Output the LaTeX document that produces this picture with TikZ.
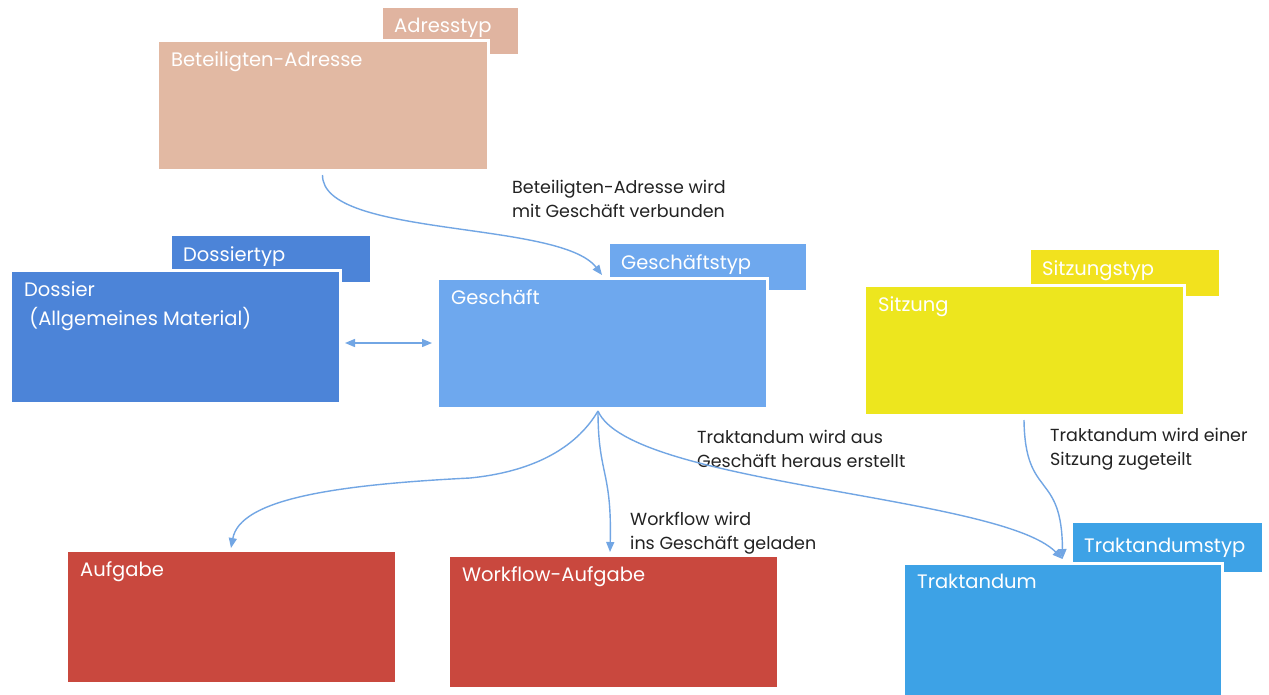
\documentclass[tikz,border=0pt]{standalone}
\usepackage{fontspec}
\setmainfont{Poppins}
\usetikzlibrary{arrows.meta}
\definecolor{tanc}{HTML}{E2B9A3}
\definecolor{tantab}{HTML}{E0B4A0}
\definecolor{dosc}{HTML}{4C84D8}
\definecolor{gesc}{HTML}{6EA8EE}
\definecolor{sitc}{HTML}{EDE61E}
\definecolor{sittab}{HTML}{F2E21E}
\definecolor{aufc}{HTML}{C9483E}
\definecolor{trkc}{HTML}{3DA2E6}
\definecolor{arrc}{HTML}{72A6E4}
\definecolor{txtc}{HTML}{222222}
\begin{document}
\begin{tikzpicture}[x=1pt,y=-1pt,
  mainbox/.style={draw=white, line width=3pt, anchor=north west, inner sep=0pt, outer sep=0pt,
    minimum width=#1, minimum height=130pt},
  tabbox/.style={anchor=north west, inner sep=0pt, outer sep=0pt, minimum width=#1, minimum height=46pt},
  lab/.style={anchor=north west, text=white, inner sep=0pt, xshift=14pt, yshift=-11pt,
    font=\fontsize{19.5}{29}\selectfont, align=left},
  tablab/.style={anchor=north west, text=white, inner sep=0pt, xshift=11pt, yshift=-10pt,
    font=\fontsize{19.5}{22}\selectfont},
  note/.style={anchor=north west, text=txtc, inner sep=0pt, align=left,
    font=\fontsize{17.5}{24}\selectfont},
  conn/.style={draw=arrc, line width=1.4pt, -{Triangle[length=10pt,width=8pt]}},
]
\useasboundingbox (0,0) rectangle (1269,694);
\fill[white] (0,0) rectangle (1269,694);

% type tabs
\node[tabbox=135pt, fill=tantab, label={[tablab]north west:Adresstyp}] (adrt) at (383,8) {};
\node[tabbox=198pt, fill=dosc, label={[tablab]north west:Dossiertyp}] (dost) at (172,236) {};
\node[tabbox=196pt, fill=gesc, label={[tablab]north west:Geschäftstyp}] (gest) at (610,244) {};
\node[tabbox=188pt, fill=sittab, label={[tablab]north west:Sitzungstyp}] (sitt) at (1031,250) {};
\node[tabbox=189pt, minimum height=49pt, fill=trkc, label={[tablab, yshift=-5pt]north west:Traktandumstyp}] (trkt) at (1073,523) {};

% main boxes
\node[mainbox=331pt, fill=tanc, label={[lab]north west:Beteiligten-Adresse}] (adr) at (157,40) {};
\node[mainbox=330pt, minimum height=133pt, fill=dosc, label={[lab]north west:Dossier\\\ (Allgemeines Material)}] (dos) at (10,270) {};
\node[mainbox=330pt, fill=gesc, label={[lab]north west:Geschäft}] (ges) at (437,278) {};
\node[mainbox=320pt, fill=sitc, label={[lab]north west:Sitzung}] (sit) at (864,285) {};
\node[mainbox=330pt, minimum height=133pt, fill=aufc, label={[lab]north west:Aufgabe}] (auf) at (66,550) {};
\node[mainbox=330pt, minimum height=133pt, fill=aufc, label={[lab]north west:Workflow-Aufgabe}] (wfa) at (448,555) {};
\node[mainbox=319pt, minimum height=133pt, fill=trkc, label={[lab]north west:Traktandum}] (trk) at (903,563) {};

% notes
\node[note] (n1) at (512,180) {Beteiligten-Adresse wird\\mit Geschäft verbunden};
\node[note] (n2) at (697,430) {Traktandum wird aus\\Geschäft heraus erstellt};
\node[note] (n3) at (1050,428) {Traktandum wird einer\\Sitzung zugeteilt};
\node[note] (n4) at (630,512) {Workflow wird\\ins Geschäft geladen};

% connectors
\coordinate (gs) at ([xshift=-4pt,yshift=-3pt]ges.south);
\draw[conn] ([yshift=-5pt]adr.south) .. controls (322,238) and (560,220) .. ([yshift=3pt]ges.north);
\draw[conn, {Triangle[length=10pt,width=8pt]}-{Triangle[length=10pt,width=8pt]}]
  ([xshift=5pt]dos.east |- ges.west) -- ([xshift=-5pt]ges.west);
\draw[conn] (gs) .. controls (575,450) and (530,472) .. (470,478)
  .. controls (330,485) and (240,500) .. ([yshift=2pt]auf.north);
\draw[conn] (gs) .. controls (598,475) and (612,470) .. ([xshift=-3pt,yshift=3pt]wfa.north);
\draw[conn] (gs) .. controls (630,485) and (1000,495) .. ([yshift=4pt]trk.north);
\draw[conn] ([yshift=-5pt]sit.south) .. controls (1025,500) and (1062,470) .. ([yshift=4pt]trk.north);
\end{tikzpicture}
\end{document}
